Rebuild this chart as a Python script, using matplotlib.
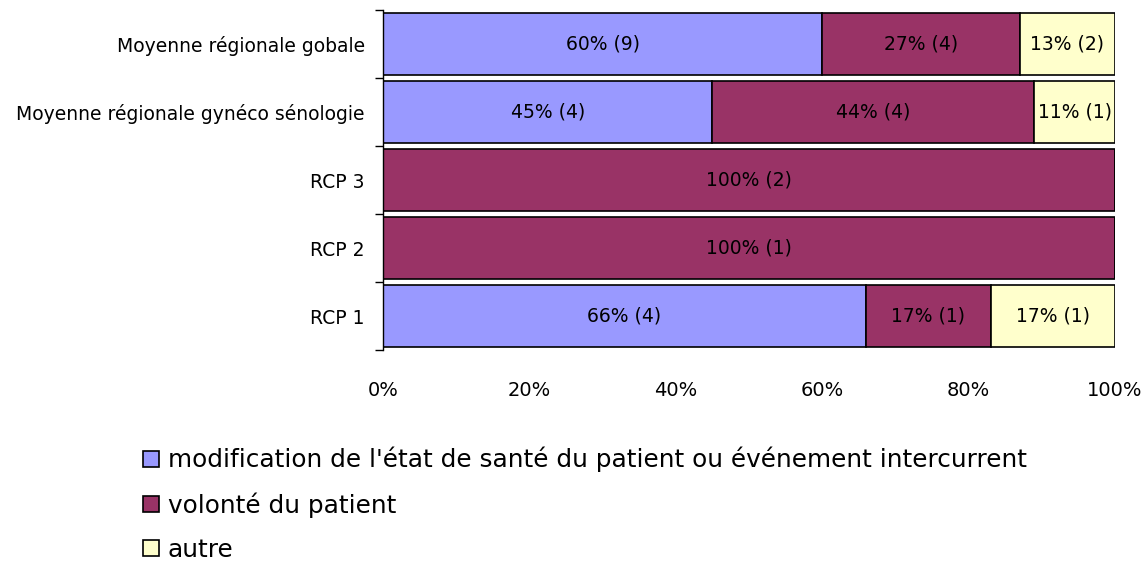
import matplotlib
matplotlib.use('Agg')
import matplotlib.pyplot as plt
import numpy as np

# données
categories = ['RCP 1', 'RCP 2', 'RCP 3',
              'Moyenne régionale gynéco sénologie', 'Moyenne régionale gobale']
series_names = ["modification de l'état de santé du patient ou événement intercurrent",
                'volonté du patient', 'autre']
pct_modif = [66, 0, 0, 45, 60]
pct_volonte = [17, 100, 100, 44, 27]
pct_autre = [17, 0, 0, 11, 13]
n_modif = [4, 0, 0, 4, 9]
n_volonte = [1, 1, 2, 4, 4]
n_autre = [1, 0, 0, 1, 2]
xticks = [0, 20, 40, 60, 80, 100]
colors = ['#9999FF', '#993366', '#FFFFCC']

plt.rcParams['font.family'] = ['DejaVu Sans']

fig = plt.figure(figsize=(11.48, 5.65), dpi=100)
ax = fig.add_axes([383 / 1148, 1 - 350 / 565, 732 / 1148, 340 / 565])

y = np.arange(len(categories))
left = np.zeros(len(categories))
handles = []
for pcts, counts, col, name in zip([pct_modif, pct_volonte, pct_autre],
                                   [n_modif, n_volonte, n_autre],
                                   colors, series_names):
    pcts = np.array(pcts, dtype=float)
    bars = ax.barh(y, pcts, left=left, height=0.92, color=col,
                   edgecolor='black', linewidth=1.2, label=name)
    handles.append(bars)
    for yi, l, p, c in zip(y, left, pcts, counts):
        if p > 0:
            ax.text(l + p / 2, yi, f'{int(p)}% ({c})', ha='center', va='center',
                    fontsize=13.5, color='black')
    left += pcts

ax.set_xlim(0, 100)
ax.set_ylim(-0.5, len(categories) - 0.5)
ax.set_xticks(xticks)
ax.set_xticklabels([f'{t}%' for t in xticks], fontsize=14)
ax.tick_params(axis='x', length=0, pad=22)
ax.set_yticks(y)
ax.set_yticklabels(categories, fontsize=13.5)
ax.tick_params(axis='y', which='major', length=0, pad=13)
ax.set_yticks(np.arange(len(categories) + 1) - 0.5, minor=True)
ax.tick_params(axis='y', which='minor', length=6, width=1, direction='out')

for s in ['top', 'right', 'bottom']:
    ax.spines[s].set_visible(False)
ax.spines['left'].set_linewidth(1)

fig.legend(handles=handles, loc='upper left', bbox_to_anchor=(143 / 1148, 1 - 447 / 565),
           frameon=False, fontsize=17.8, handlelength=0.65, handleheight=0.65,
           handletextpad=0.35, labelspacing=0.8, borderaxespad=0, borderpad=0)

fig.savefig('out.png', dpi=100)
